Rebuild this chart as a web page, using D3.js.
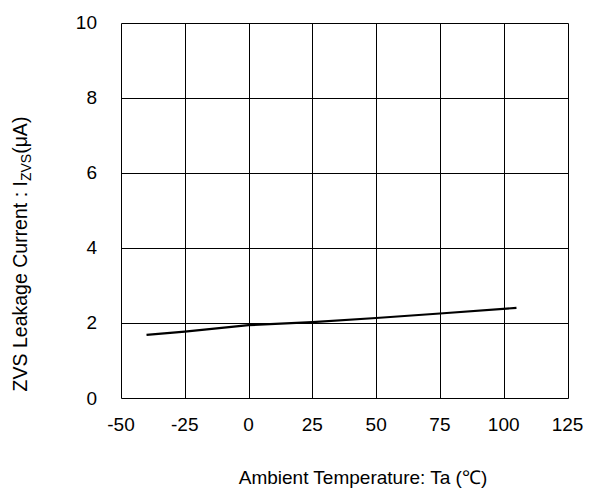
<!DOCTYPE html>
<html>
<head>
<meta charset="utf-8">
<script src="https://cdn.jsdelivr.net/npm/d3@7"></script>
<style>
  body { margin: 0; background: #fff; }
  text { font-family: "Liberation Sans", Arial, sans-serif; fill: #000; }
</style>
</head>
<body>
<script>
var width = 589,
    height = 489;

// data
var temps = [-40, -25, 0, 25, 50, 75, 105];
var leakage = [1.68, 1.77, 1.94, 2.02, 2.13, 2.25, 2.40];
var xTicks = [-50, -25, 0, 25, 50, 75, 100, 125];
var yTicks = [0, 2, 4, 6, 8, 10];

var plotLeft = 121, plotRight = 567.5, plotTop = 22.5, plotBottom = 398;

var x = d3.scaleLinear().domain([-50, 125]).range([plotLeft, plotRight]);
var y = d3.scaleLinear().domain([0, 10]).range([plotBottom, plotTop]);

var svg = d3.select("body").append("svg")
    .attr("width", width)
    .attr("height", height);

// grid
svg.append("g").selectAll("line")
    .data(xTicks)
  .enter().append("line")
    .attr("x1", function(d) { return Math.round(x(d)) + 0.5; })
    .attr("x2", function(d) { return Math.round(x(d)) + 0.5; })
    .attr("y1", Math.round(y(10)) + 0.5).attr("y2", Math.round(y(0)) + 0.5)
    .attr("stroke", "#000").attr("stroke-width", 1);

svg.append("g").selectAll("line")
    .data(yTicks)
  .enter().append("line")
    .attr("y1", function(d) { return Math.round(y(d)) + 0.5; })
    .attr("y2", function(d) { return Math.round(y(d)) + 0.5; })
    .attr("x1", Math.round(x(-50)) + 0.5).attr("x2", Math.round(x(125)) + 0.5)
    .attr("stroke", "#000").attr("stroke-width", 1);

// tick labels
svg.append("g").selectAll("text")
    .data(yTicks)
  .enter().append("text")
    .attr("x", 97)
    .attr("y", function(d) { return y(d) + 6.5; })
    .attr("text-anchor", "end")
    .style("font-size", "19px")
    .text(function(d) { return d; });

svg.append("g").selectAll("text")
    .data(xTicks)
  .enter().append("text")
    .attr("x", function(d) { return x(d); })
    .attr("y", 431)
    .attr("text-anchor", "middle")
    .style("font-size", "19px")
    .text(function(d) { return d; });

// the curve
var line = d3.line()
    .x(function(d, i) { return x(temps[i]); })
    .y(function(d) { return y(d); });

svg.append("path")
    .datum(leakage)
    .attr("d", line)
    .attr("fill", "none")
    .attr("stroke", "#000")
    .attr("stroke-width", 2.2);

// axis titles
svg.append("text")
    .attr("x", 363)
    .attr("y", 484)
    .attr("text-anchor", "middle")
    .style("font-size", "19px")
    .text("Ambient Temperature: Ta (\u2103)");

var yl = svg.append("text")
    .attr("transform", "translate(27,254) rotate(-90)")
    .attr("text-anchor", "middle")
    .style("font-size", "19.5px");
yl.append("tspan").text("ZVS Leakage Current : I");
yl.append("tspan").attr("dy", 4).style("font-size", "14px").text("ZVS");
yl.append("tspan").attr("dy", -4).text("(\u03bcA)");
</script>
</body>
</html>
